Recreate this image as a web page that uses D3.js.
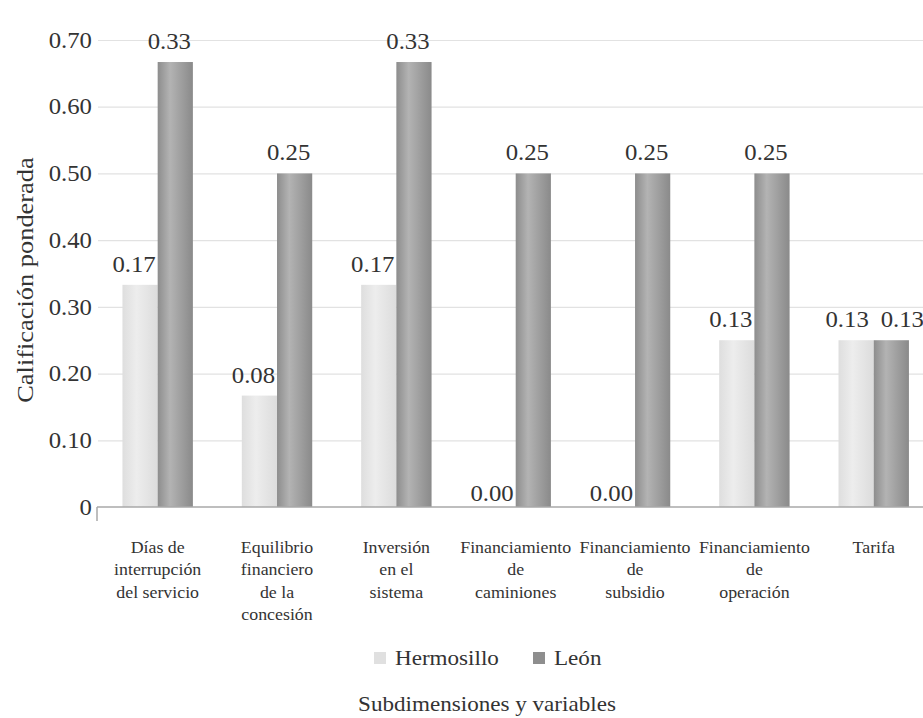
<!DOCTYPE html>
<html>
<head>
<meta charset="utf-8">
<script src="https://cdn.jsdelivr.net/npm/d3@7"></script>
</head>
<body style="margin:0;background:#fff">
<svg id="chart" width="923" height="718"></svg>
<script>
// Subdimensiones y variables evaluadas (cada línea de la etiqueta por separado)
const categories = [
  ["Días de", "interrupción", "del servicio"],
  ["Equilibrio", "financiero", "de la", "concesión"],
  ["Inversión", "en el", "sistema"],
  ["Financiamiento", "de", "caminiones"],
  ["Financiamiento", "de", "subsidio"],
  ["Financiamiento", "de", "operación"],
  ["Tarifa"]
];
const seriesNames = ["Hermosillo", "León"];

// Calificación ponderada (altura de las barras)
const hermosilloValues = [0.333, 0.167, 0.333, 0, 0, 0.25, 0.25];
const leonValues       = [0.667, 0.5, 0.667, 0.5, 0.5, 0.5, 0.25];

// Etiquetas de datos impresas sobre las barras
const hermosilloLabels = ["0.17", "0.08", "0.17", "0.00", "0.00", "0.13", "0.13"];
const leonLabels       = ["0.33", "0.25", "0.33", "0.25", "0.25", "0.25", "0.13"];

const yTicks = [0, 0.1, 0.2, 0.3, 0.4, 0.5, 0.6, 0.7];

const FONT = '"Liberation Serif"';
const INK = "#333";
const SX = 1.1;   // ensanchado horizontal de la tipografía
const svg = d3.select("#chart");
const W = 923;

const margin = { left: 98, baseline: 507, top: 40 };

const x0 = d3.scaleBand()
  .domain(d3.range(categories.length))
  .range([margin.left, 933.4])
  .paddingInner(0.41)
  .paddingOuter(0.205);

const x1 = d3.scaleBand()
  .domain(seriesNames)
  .range([0, x0.bandwidth()])
  .padding(0);

const y = d3.scaleLinear()
  .domain([0, 0.7])
  .range([margin.baseline, margin.top]);

// Texto anclado en (x, y) con ensanchado horizontal
function addText(parent, x, yy, size, anchor, sx) {
  return parent.append("text")
    .attr("transform", `translate(${x},${yy}) scale(${sx || SX},1)`)
    .attr("text-anchor", anchor || "start")
    .style("font-size", size + "px");
}

// Gradientes cilíndricos de las barras
const defs = svg.append("defs");
function cylinder(id, stops) {
  const g = defs.append("linearGradient").attr("id", id)
    .attr("x1", "0%").attr("x2", "100%").attr("y1", "0%").attr("y2", "0%");
  stops.forEach(([o, c]) => g.append("stop").attr("offset", o).attr("stop-color", c));
}
cylinder("gradH", [["0%", "#dedede"], ["40%", "#ededed"], ["100%", "#dcdcdc"]]);
cylinder("gradL", [["0%", "#8d8d8d"], ["35%", "#b3b3b3"], ["100%", "#8a8a8a"]]);
const fills = { "Hermosillo": "url(#gradH)", "León": "url(#gradL)" };
const swatch = { "Hermosillo": "#e0e0e0", "León": "#8e8e8e" };

// Líneas de cuadrícula y eje Y
const yAxis = d3.axisLeft(y)
  .tickValues(yTicks)
  .tickSize(-(W - margin.left))
  .tickPadding(6)
  .tickFormat(d => d === 0 ? "0" : d3.format(".2f")(d));

const yG = svg.append("g")
  .attr("transform", `translate(${margin.left},0)`)
  .call(yAxis);
yG.attr("font-family", null).attr("font-size", null);
yG.select(".domain").remove();
yG.selectAll(".tick line")
  .attr("stroke", "#e2e2e2")
  .attr("stroke-width", 1.2);
yG.selectAll(".tick text")
  .attr("x", -5.5)
  .attr("transform", `scale(${SX},1)`)
  .style("font-size", "22.5px");
yG.selectAll(".tick").filter(d => d === 0).select("line").remove();

// Barras
const rows = categories.map((c, i) => ({
  i,
  values: [
    { name: "Hermosillo", v: hermosilloValues[i], label: hermosilloLabels[i] },
    { name: "León", v: leonValues[i], label: leonLabels[i] }
  ]
}));

const groups = svg.append("g").selectAll("g")
  .data(rows)
  .join("g")
  .attr("transform", d => `translate(${x0(d.i)},0)`);

groups.selectAll("rect")
  .data(d => d.values)
  .join("rect")
  .attr("x", d => x1(d.name))
  .attr("width", x1.bandwidth())
  .attr("y", d => y(d.v))
  .attr("height", d => y(0) - y(d.v))
  .attr("fill", d => fills[d.name]);

// Etiquetas de datos; si ambas quedan a la misma altura se separan
groups.each(function(row) {
  const g = d3.select(this);
  const same = row.values[0].v === row.values[1].v;
  row.values.forEach((d, k) => {
    const shift = same ? (k === 0 ? -9 : 11) : -6;
    const gap = d.v === 0 ? 6 : 13;
    addText(g, x1(d.name) + x1.bandwidth() / 2 + shift, y(d.v) - gap, 22.5, "middle")
      .attr("class", "val")
      .text(d.label);
  });
});

// Eje X
svg.append("line")
  .attr("x1", margin.left - 1).attr("x2", W)
  .attr("y1", y(0)).attr("y2", y(0))
  .attr("stroke", "#a8a8a8").attr("stroke-width", 1.5);
svg.append("line")
  .attr("x1", margin.left - 1).attr("x2", margin.left - 1)
  .attr("y1", y(0)).attr("y2", y(0) + 14)
  .attr("stroke", "#a8a8a8").attr("stroke-width", 1.5);

const catG = svg.append("g");
categories.forEach((lines, i) => {
  const cx = x0(i) + x0.bandwidth() / 2;
  const t = addText(catG, cx, 553, 17, "middle", 1.05);
  lines.forEach((ln, k) => {
    t.append("tspan")
      .attr("x", 0)
      .attr("y", k * 22.5)
      .text(ln);
  });
});

// Leyenda
const legend = svg.append("g");
const legendPos = [374, 533];
seriesNames.forEach((name, k) => {
  legend.append("rect")
    .attr("x", legendPos[k]).attr("y", 652)
    .attr("width", 12).attr("height", 12)
    .attr("fill", swatch[name]);
  addText(legend, legendPos[k] + 21, 665, 21).text(name);
});

// Títulos de los ejes
addText(svg, 487, 711, 21, "middle").text("Subdimensiones y variables");

svg.append("text")
  .attr("transform", `translate(33,280) rotate(-90) scale(${SX},1)`)
  .attr("text-anchor", "middle")
  .style("font-size", "24px")
  .text("Calificación ponderada");

// Tipografía común para todos los textos
svg.selectAll("text")
  .style("font-family", FONT)
  .style("fill", INK);
</script>
</body>
</html>
